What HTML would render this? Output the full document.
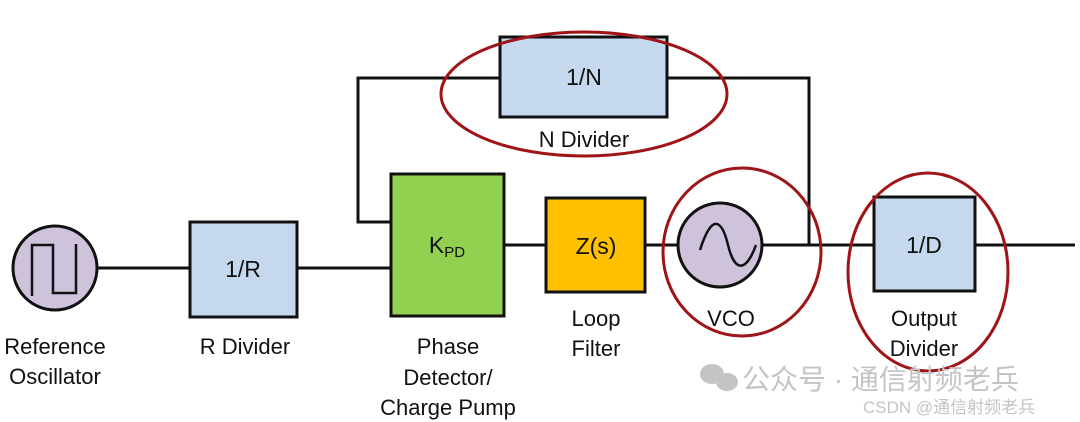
<!DOCTYPE html>
<html><head><meta charset="utf-8"><style>
body{margin:0;background:#fff;}
svg{display:block;}
text{font-family:"Liberation Sans","Noto Sans CJK SC",sans-serif;}
</style></head><body>
<svg width="1080" height="422" viewBox="0 0 1080 422">
<g stroke="#111" stroke-width="3" fill="none">
<line x1="97" y1="268" x2="190" y2="268"/>
<line x1="297" y1="268" x2="391" y2="268"/>
<line x1="504" y1="245" x2="546" y2="245"/>
<line x1="645" y1="245" x2="678" y2="245"/>
<line x1="762" y1="245" x2="874" y2="245"/>
<line x1="975" y1="245" x2="1075" y2="245"/>
<polyline points="809,245 809,78 667,78"/>
<polyline points="500,78 358,78 358,222 391,222"/>
</g>
<circle cx="55" cy="268" r="42" fill="#cfc3dc" stroke="#111" stroke-width="3"/>
<polyline points="32,296 32,245 53,245 53,293 76,293 76,244" fill="none" stroke="#111" stroke-width="2.5"/>
<rect x="190" y="222" width="107" height="95" fill="#c5d8ee" stroke="#111" stroke-width="3"/>
<rect x="391" y="174" width="113" height="142" fill="#92d050" stroke="#111" stroke-width="3"/>
<rect x="546" y="198" width="99" height="94" fill="#ffc000" stroke="#111" stroke-width="3"/>
<circle cx="720" cy="245" r="42" fill="#cfc3dc" stroke="#111" stroke-width="3"/>
<path d="M700,250 C712,212 722,220 728,245 C734,270 745,275 756,245" fill="none" stroke="#111" stroke-width="2.5"/>
<rect x="874" y="197" width="101" height="94" fill="#c5d8ee" stroke="#111" stroke-width="3"/>
<rect x="500" y="37" width="167" height="80" fill="#c5d8ee" stroke="#111" stroke-width="3"/>
<g fill="none" stroke="#a01418" stroke-width="3">
<ellipse cx="584" cy="94" rx="143" ry="62"/>
<ellipse cx="742" cy="252" rx="79" ry="84"/>
<ellipse cx="928" cy="272" rx="80" ry="99"/>
</g>
<g font-size="23" fill="#111" text-anchor="middle">
<text x="243" y="277">1/R</text>
<text x="447" y="253">K<tspan font-size="15" dy="4">PD</tspan></text>
<text x="596" y="254">Z(s)</text>
<text x="924" y="253">1/D</text>
<text x="584" y="85">1/N</text>
</g>
<g font-size="22" fill="#111" text-anchor="middle">
<text x="55" y="354">Reference</text>
<text x="55" y="384">Oscillator</text>
<text x="245" y="354">R Divider</text>
<text x="448" y="354">Phase</text>
<text x="448" y="385">Detector/</text>
<text x="448" y="415">Charge Pump</text>
<text x="596" y="326">Loop</text>
<text x="596" y="356">Filter</text>
<text x="731" y="326">VCO</text>
<text x="924" y="326">Output</text>
<text x="924" y="356">Divider</text>
<text x="584" y="147">N Divider</text>
</g>
<g fill="#c4c4c4">
<ellipse cx="712" cy="374" rx="12" ry="10"/><ellipse cx="727" cy="382" rx="11" ry="9"/>
<text x="742" y="389" font-size="28">公众号 · 通信射频老兵</text>
<text x="863" y="413" font-size="17">CSDN @通信射频老兵</text>
</g>
</svg>
</body></html>
